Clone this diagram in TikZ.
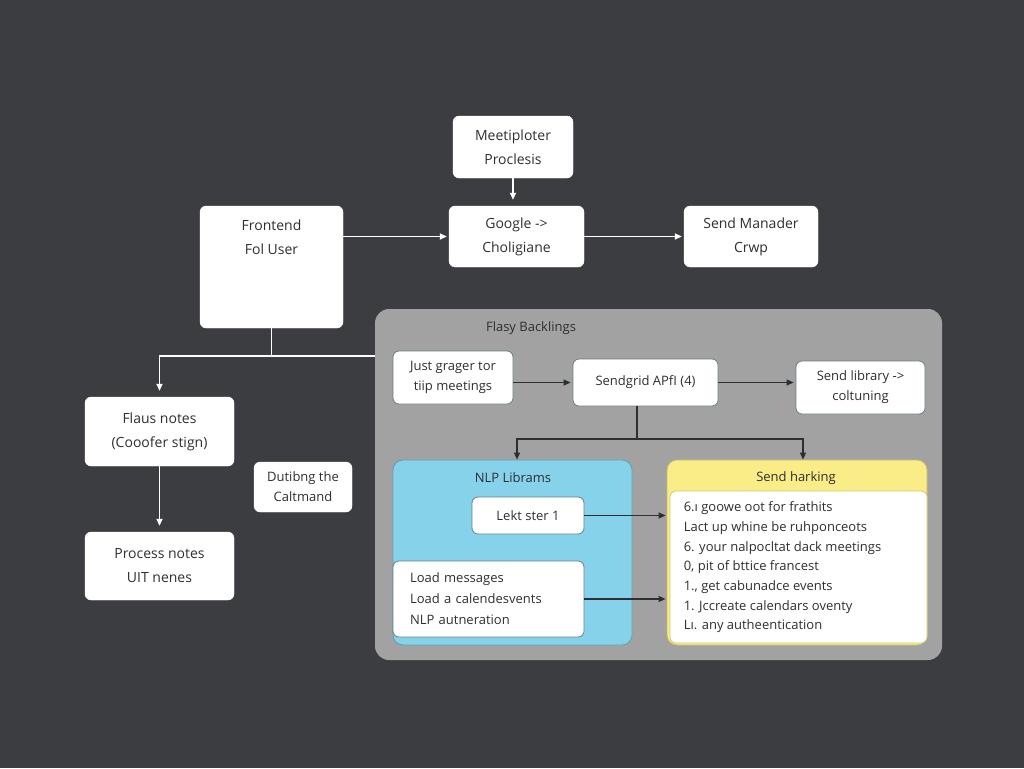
\documentclass[tikz,border=0pt]{standalone}
\usepackage{fontspec}
\setmainfont{Open Sans}
\usepackage{xcolor}
\usetikzlibrary{arrows.meta, positioning}

\definecolor{bgdark}{RGB}{59,61,65}
\definecolor{panelgray}{RGB}{162,162,162}
\definecolor{nlpblue}{RGB}{135,210,235}
\definecolor{sendyellow}{RGB}{250,236,135}
\definecolor{edgegray}{RGB}{105,125,135}
\definecolor{inkdark}{RGB}{45,47,50}

\begin{document}
\begin{tikzpicture}[x=1pt, y=-1pt, >={Triangle[length=7pt,width=6pt]},
    font=\fontsize{14}{24}\selectfont, text=inkdark,
    box/.style={draw=white, fill=white, rounded corners=6pt, align=center, inner sep=0pt},
    inbox/.style={draw=edgegray, fill=white, rounded corners=6pt, align=center,
                  inner sep=0pt, line width=0.8pt, font=\fontsize{13}{20}\selectfont},
    group/.style={rounded corners=10pt, inner sep=0pt, line width=0.8pt},
    flow/.style={->, draw=white, line width=1.8pt},
    wline/.style={draw=white, line width=1.8pt},
    darkflow/.style={->, draw=inkdark, line width=1.2pt},
    dline/.style={draw=inkdark, line width=1.2pt}]

% ── background ───────────────────────────────────────────────────
\fill[bgdark] (0,0) rectangle (1024,768);
\useasboundingbox (0,0) rectangle (1024,768);

% ── top row ──────────────────────────────────────────────────────
\node[box, minimum width=120, minimum height=62] (meet) at (513,147)
    {Meetiploter\\Proclesis};
\node[box, minimum width=143, minimum height=122, text depth=60pt] (front) at (271.5,267)
    {Frontend\\Fol User};
\node[box, minimum width=135, minimum height=61] (google) at (516.5,236.5)
    {Google ->\\Choligiane};
\node[box, minimum width=134, minimum height=61] (manader) at (751,236.5)
    {Send Manader\\Crwp};

\draw[flow, shorten >=2pt] (front.east |- google.west) -- (google.west);
\draw[flow, shorten >=2pt] (google.east) -- (manader.west);
\draw[flow, shorten >=6pt] (meet.south) -- (meet.south |- google.north);

% ── left column ──────────────────────────────────────────────────
\node[box, minimum width=149, minimum height=69] (flaus) at (159.5,431.5)
    {Flaus notes\\(Cooofer stign)};
\node[box, minimum width=149, minimum height=68] (process) at (159.5,566)
    {Process notes\\UIT nenes};
\node[box, minimum width=98, minimum height=50, font=\fontsize{13}{20}\selectfont] (dutibng) at (303,487)
    {Dutibng the\\Caltmand};

% ── backend panel ────────────────────────────────────────────────
\node[group, fill=panelgray, rounded corners=14pt, minimum width=567, minimum height=351]
    (back) at (658.5,484.5) {};
\node[font=\fontsize{13}{16}\selectfont] (backtitle) at (531,328) {Flasy Backlings};

\coordinate (fj) at (271.5,356);
\draw[wline] (front.south) -- (fj) -- (back.west |- fj);
\draw[flow, shorten >=6pt] (fj) -| (flaus.north);
\draw[flow, shorten >=6pt] (flaus.south) -- (process.north);

\node[inbox, minimum width=120, minimum height=53] (grager) at (453,377.5)
    {Just grager tor\\tiip meetings};
\node[inbox, minimum width=145, minimum height=47] (sendgrid) at (645.5,382.5)
    {Sendgrid APfI (4)};
\node[inbox, minimum width=129, minimum height=53] (library) at (860.5,387.5)
    {Send library ->\\coltuning};

\draw[darkflow, shorten >=2pt] (grager.east |- sendgrid.west) -- (sendgrid.west);
\draw[darkflow, shorten >=2pt] (sendgrid.east) -- (library.west |- sendgrid.east);

% NLP group
\node[group, fill=nlpblue, draw=nlpblue!75!black, minimum width=239, minimum height=185]
    (nlp) at (512.5,552.5) {};
\node[font=\fontsize{13}{16}\selectfont] (nlptitle) at (513,478) {NLP Librams};
\node[inbox, minimum width=112, minimum height=37] (lekt) at (528,515.5) {Lekt ster 1};
\node[inbox, minimum width=191, minimum height=76, align=left, text width=157pt,
      font=\fontsize{13}{21}\selectfont] (load) at (488.5,599)
    {Load messages\\Load a calendesvents\\NLP autneration};

% sending group
\node[group, fill=sendyellow, draw=sendyellow!80!black, minimum width=260, minimum height=185]
    (harking) at (797,552.5) {};
\node[font=\fontsize{13}{16}\selectfont] (harktitle) at (796,478) {Send harking};
\node[inbox, draw=sendyellow!85!black, minimum width=257, minimum height=152] (hlist) at (798.5,567) {};
\node[anchor=north west, align=left, inner sep=0pt, font=\fontsize{13}{19.7}\selectfont]
    (hlisttext) at ([xshift=14pt, yshift=-11pt]hlist.north west)
    {6.ı goowe oot for frathits\\Lact up whine be ruhponceots\\6. your nalpocltat dack meetings\\0, pit of bttice francest\\1., get cabunadce events\\1. Jccreate calendars oventy\\Lı. any autheentication};

\coordinate (sj) at (637,439);
\draw[dline] (sendgrid.south -| sj) -- (sj);
\draw[darkflow] (sj) -| ([xshift=4.5pt]nlp.north);
\draw[darkflow] (sj) -| ([xshift=6pt]harking.north);

\draw[darkflow, shorten >=1pt] (lekt.east) -- (lekt.east -| harking.west);
\draw[darkflow, shorten >=1pt] (load.east) -- (load.east -| harking.west);

\end{tikzpicture}
\end{document}
